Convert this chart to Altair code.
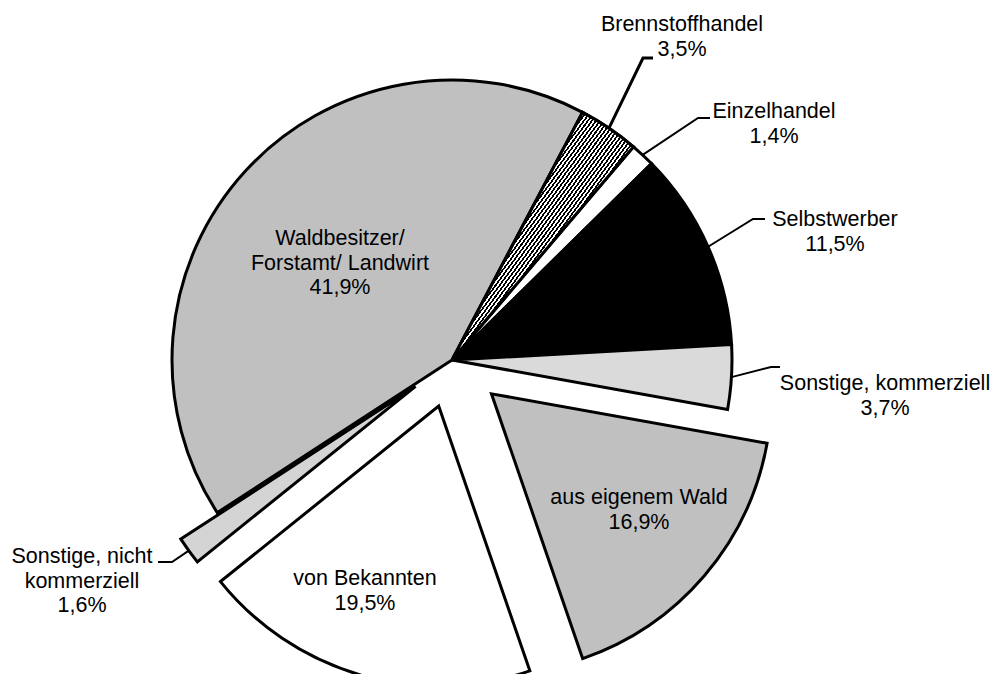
import math
import altair as alt
import pandas as pd

# ---------------- data ----------------
categories = [
    "Brennstoffhandel",
    "Einzelhandel",
    "Selbstwerber",
    "Sonstige, kommerziell",
    "aus eigenem Wald",
    "von Bekannten",
    "Sonstige, nicht kommerziell",
    "Waldbesitzer/Forstamt/Landwirt",
]
shares = [3.5, 1.4, 11.5, 3.7, 16.9, 19.5, 1.6, 41.9]
label_names = [
    "Brennstoffhandel",
    "Einzelhandel",
    "Selbstwerber",
    "Sonstige, kommerziell",
    "aus eigenem Wald",
    "von Bekannten",
    "Sonstige, nicht\nkommerziell",
    "Waldbesitzer/\nForstamt/ Landwirt",
]

# ---------------- layout / style ----------------
ORIGIN = 8                      # page margin, plot origin in page px
CX, CY = 452 - ORIGIN, 360 - ORIGIN
R = 280
START_DEG = 27.8
EXPLODE = {"aus eigenem Wald": 52, "von Bekannten": 48, "Sonstige, nicht kommerziell": 45}
FILLS = {
    "Brennstoffhandel": "#7a7a7a",
    "Einzelhandel": "#ffffff",
    "Selbstwerber": "#000000",
    "Sonstige, kommerziell": "#dadada",
    "aus eigenem Wald": "#c0c0c0",
    "von Bekannten": "#ffffff",
    "Sonstige, nicht kommerziell": "#d4d4d4",
    "Waldbesitzer/Forstamt/Landwirt": "#c0c0c0",
}
# label anchor: (centre x, first baseline y) in page px
LABEL_POS = {
    "Brennstoffhandel": (682, 31),
    "Einzelhandel": (774, 118),
    "Selbstwerber": (835, 226),
    "Sonstige, kommerziell": (885, 390),
    "aus eigenem Wald": (639, 504),
    "von Bekannten": (365, 585),
    "Sonstige, nicht kommerziell": (82, 563),
    "Waldbesitzer/Forstamt/Landwirt": (340, 245),
}
# leader elbow and end points (page px); start is on the slice arc
LEADERS = {
    "Brennstoffhandel": [(643, 58), (653, 58)],
    "Einzelhandel": [(698, 118), (710, 118)],
    "Selbstwerber": [(753, 219), (765, 219)],
    "Sonstige, kommerziell": [(771, 367), (780, 367)],
    "Sonstige, nicht kommerziell": [(172, 562), (158, 562)],
}
LEADER_W = {"Brennstoffhandel": 3}
FONT = "Liberation Sans"
FS = 21.5
LH = 24.5

start_rad = math.radians(START_DEG)

df = pd.DataFrame({
    "category": categories,
    "share": shares,
    "order": list(range(len(categories))),
    "explode": [EXPLODE.get(c, 0) for c in categories],
})

theta_scale = alt.Scale(domain=[0, 100], range=[start_rad, start_rad + 2 * math.pi])

base = (
    alt.Chart(df)
    .transform_window(cum="sum(share)", sort=[alt.SortField("order")], frame=[None, 0])
    .transform_calculate(cum0="datum.cum - datum.share")
    .transform_calculate(mid=f"{start_rad} + 2*PI*(datum.cum0 + datum.share/2)/100")
    .transform_calculate(px=f"{CX} + datum.explode*sin(datum.mid)")
    .transform_calculate(py=f"{CY} - datum.explode*cos(datum.mid)")
)

enc = dict(
    theta=alt.Theta("cum0:Q", scale=theta_scale, stack=None),
    theta2=alt.Theta2("cum:Q"),
    x=alt.X("px:Q", scale=None, axis=None, stack=None),
    y=alt.Y("py:Q", scale=None, axis=None, stack=None),
)

pie = base.mark_arc(radius=R, stroke="black", strokeWidth=3, strokeJoin="miter").encode(
    color=alt.Color(
        "category:N",
        scale=alt.Scale(domain=categories, range=[FILLS[c] for c in categories]),
        legend=None,
    ),
    **enc,
)

# hatch for Brennstoffhandel
N = 90
stops = []
for i in range(N):
    a = round(i / N, 6)
    b = round((i + 0.5) / N, 6)
    c = round((i + 1) / N, 6)
    stops += [
        alt.GradientStop(offset=a, color="#000000"),
        alt.GradientStop(offset=b, color="#000000"),
        alt.GradientStop(offset=b, color="#ffffff"),
        alt.GradientStop(offset=c, color="#ffffff"),
    ]
hatch_fill = alt.LinearGradient(gradient="linear", stops=stops, x1=0, y1=0, x2=1, y2=1)

hatch = (
    base.transform_filter(alt.datum.category == "Brennstoffhandel")
    .mark_arc(radius=R, stroke="black", strokeWidth=3, strokeJoin="miter", fill=hatch_fill)
    .encode(**enc)
)

# labels
def pct(v):
    return f"{v:.1f}".replace(".", ",") + "%"

lab_df = pd.DataFrame({
    "category": categories,
    "label": [f"{n}\n{pct(v)}" for n, v in zip(label_names, shares)],
    "lx": [LABEL_POS[c][0] - ORIGIN for c in categories],
    "ly": [LABEL_POS[c][1] - ORIGIN for c in categories],
})
labels = alt.Chart(lab_df).mark_text(
    font=FONT, fontSize=FS, lineHeight=LH, lineBreak="\n",
    align="center", baseline="alphabetic", color="black",
).encode(
    x=alt.X("lx:Q", scale=None, axis=None),
    y=alt.Y("ly:Q", scale=None, axis=None),
    text=alt.Text("label:N"),
)

# leader lines
rows = []
cum = 0.0
for c, v in zip(categories, shares):
    mid = math.radians(START_DEG + 360 * (cum + v / 2) / 100)
    cum += v
    if c not in LEADERS:
        continue
    r = R + EXPLODE.get(c, 0)
    pts = [(CX + r * math.sin(mid), CY - r * math.cos(mid))]
    pts += [(x - ORIGIN, y - ORIGIN) for x, y in LEADERS[c]]
    for k, (x, y) in enumerate(pts):
        rows.append({"category": c, "k": k, "x": x, "y": y, "w": LEADER_W.get(c, 2)})
lead_df = pd.DataFrame(rows)
leaders = alt.Chart(lead_df).mark_line(color="black", strokeCap="butt").encode(
    x=alt.X("x:Q", scale=None, axis=None),
    y=alt.Y("y:Q", scale=None, axis=None),
    detail="category:N",
    order="k:Q",
    strokeWidth=alt.StrokeWidth("w:Q", scale=None, legend=None),
)

chart = (
    alt.layer(pie, hatch, leaders, labels)
    .properties(width=985, height=666, padding=0, autosize="none", background="white")
    .configure_view(stroke=None)
)

chart.save("out.html", embed_options={"renderer": "svg", "actions": False})
